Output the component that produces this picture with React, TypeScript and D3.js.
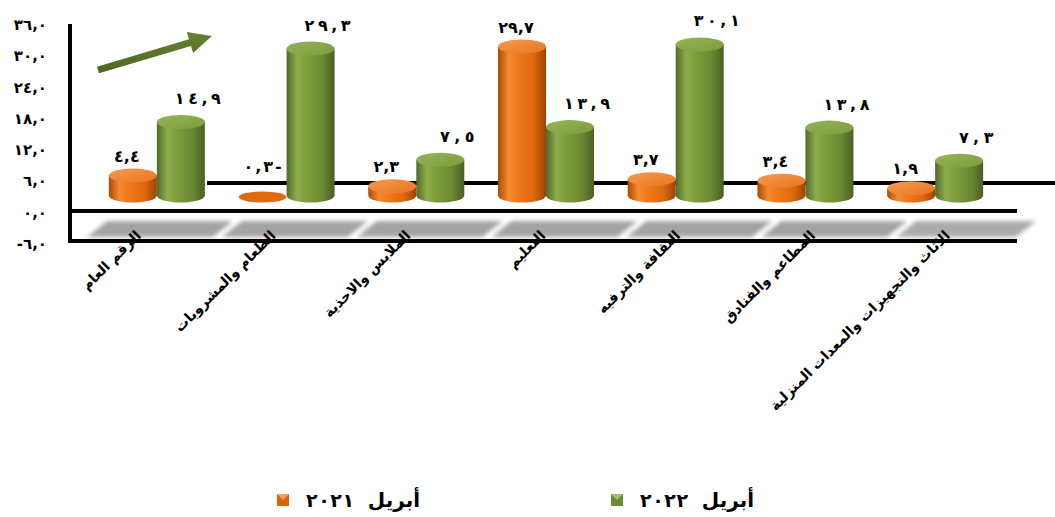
import React from "react";
import * as d3 from "d3";

const categories = [
  "الرقم العام",
  "الطعام والمشروبات",
  "الملابس والاحذية",
  "التعليم",
  "الثقافة والترفيه",
  "المطاعم والفنادق",
  "الاثاث والتجهيزات والمعدات المنزلية",
];
const april2021 = [4.4, -0.3, 2.3, 29.7, 3.7, 3.4, 1.9];
const april2022 = [14.9, 29.3, 7.5, 13.9, 30.1, 13.8, 7.3];
const yTicks = [-6, 0, 6, 12, 18, 24, 30, 36];
const legendYear2021 = "٢٠٢١";
const legendYear2022 = "٢٠٢٢";
const legendMonth = "أبريل";

const W = 1055;
const H = 517;
const FONT = "'DejaVu Sans', sans-serif";

const toAr = (s: string) => s.replace(/[0-9]/g, (d) => "٠١٢٣٤٥٦٧٨٩"[+d]);
const fmtAbs = (v: number) => toAr(Math.abs(v).toFixed(1).replace(".", ","));
const tickFmt = (v: number) => (v < 0 ? "-" : "") + fmtAbs(v);
const valFmt = (v: number) => fmtAbs(v) + (v < 0 ? "-" : "");

export default function App() {
  // axis label scale (front plane)
  const axisY = d3.scaleLinear().domain([-6, 36]).range([244, 25]);
  // bar scale (projected plane)
  const barY = d3.scaleLinear().domain([0, 30]).range([198, 45]);
  const xBar = d3.scaleBand<string>().domain(categories).range([92, 1000]).padding(0);
  const xFront = d3.scaleBand<string>().domain(categories).range([70, 1014]).padding(0);

  const bw = 48;
  const rx = bw / 2;
  const ry = 7;
  const baseY = 195.5;

  const series = [
    { key: "o", values: april2021, offset: -1, dx: -6, spaced: false },
    { key: "g", values: april2022, offset: 0, dx: 17, spaced: true },
  ];

  // arrow geometry
  const tail: [number, number] = [98, 70];
  const tip: [number, number] = [212, 36];
  const ddx = tip[0] - tail[0];
  const ddy = tip[1] - tail[1];
  const len = Math.hypot(ddx, ddy);
  const ux = ddx / len;
  const uy = ddy / len;
  const nx = -uy;
  const ny = ux;
  const hl = 23;
  const hw = 11;
  const bx = tip[0] - ux * hl;
  const by = tip[1] - uy * hl;
  const sw = 3.5;
  const arrowPts = [
    [tail[0] + nx * sw, tail[1] + ny * sw],
    [bx + nx * sw, by + ny * sw],
    [bx + nx * hw, by + ny * hw],
    tip,
    [bx - nx * hw, by - ny * hw],
    [bx - nx * sw, by - ny * sw],
    [tail[0] - nx * sw, tail[1] - ny * sw],
  ]
    .map((p) => p.join(","))
    .join(" ");

  const step = xFront.step();

  return (
    <svg width={W} height={H} style={{ display: "block", position: "absolute", left: 0, top: 0 }}>
      <defs>
        <linearGradient id="oBody" x1="0" x2="1" y1="0" y2="0">
          <stop offset="0%" stopColor="#A94A06" />
          <stop offset="22%" stopColor="#F58A30" />
          <stop offset="40%" stopColor="#F07B1E" />
          <stop offset="75%" stopColor="#DE680D" />
          <stop offset="100%" stopColor="#9C4305" />
        </linearGradient>
        <linearGradient id="oTop" x1="0" x2="1" y1="0" y2="1">
          <stop offset="0%" stopColor="#F59A52" />
          <stop offset="100%" stopColor="#E9761E" />
        </linearGradient>
        <linearGradient id="gBody" x1="0" x2="1" y1="0" y2="0">
          <stop offset="0%" stopColor="#53692A" />
          <stop offset="22%" stopColor="#8DAD4C" />
          <stop offset="40%" stopColor="#7E9E3E" />
          <stop offset="75%" stopColor="#6B8831" />
          <stop offset="100%" stopColor="#4B5F24" />
        </linearGradient>
        <linearGradient id="gTop" x1="0" x2="1" y1="0" y2="1">
          <stop offset="0%" stopColor="#94B556" />
          <stop offset="100%" stopColor="#7C9B3E" />
        </linearGradient>
        <linearGradient id="arrowG" x1="0" x2="0" y1="0" y2="1">
          <stop offset="0%" stopColor="#66822F" />
          <stop offset="100%" stopColor="#4E6524" />
        </linearGradient>
        <filter id="blur" x="-10%" y="-50%" width="120%" height="200%">
          <feGaussianBlur stdDeviation="2.2" />
        </filter>
      </defs>

      {/* back floor line */}
      <line x1={207} x2={W} y1={183} y2={183} stroke="#000" strokeWidth={4} />

      {/* shadows on the floor band */}
      <g filter="url(#blur)">
        {categories.map((c, i) => {
          const s = xFront(c)!;
          const last = i === categories.length - 1;
          const l = s + 27;
          const r = s + step + (last ? 12 : 18);
          const t = 221;
          const b = 237;
          const k = 10;
          return (
            <polygon
              key={"sh" + i}
              points={`${l - k},${b} ${l + k},${t} ${r + k},${t} ${r - k},${b}`}
              fill={last ? "#ababab" : "#a3a3a3"}
            />
          );
        })}
      </g>

      {/* front frame lines */}
      <line x1={68} x2={1017} y1={211} y2={211} stroke="#000" strokeWidth={4} />
      <line x1={68} x2={1017} y1={241} y2={241} stroke="#000" strokeWidth={4} />
      <line x1={70} x2={70} y1={24} y2={243} stroke="#000" strokeWidth={4} />

      {/* y tick labels */}
      {yTicks.map((t) => (
        <text
          key={"yt" + t}
          x={47}
          y={axisY(t)}
          textAnchor="end"
          dominantBaseline="central"
          fontFamily={FONT}
          fontWeight="bold"
          fontSize={15}
          fill="#000"
        >
          {tickFmt(t)}
        </text>
      ))}

      {/* bars */}
      {series.map((sr) =>
        categories.map((c, i) => {
          const v = sr.values[i];
          const center = xBar(c)! + xBar.bandwidth() / 2;
          const x0 = center + sr.offset * bw;
          const cx = x0 + rx;
          const body = sr.key === "o" ? "url(#oBody)" : "url(#gBody)";
          const top = sr.key === "o" ? "url(#oTop)" : "url(#gTop)";
          if (v <= 0) {
            return (
              <g key={sr.key + i}>
                <ellipse cx={cx} cy={197} rx={rx} ry={5.5} fill="#DF6A10" />
              </g>
            );
          }
          const ty = barY(v);
          return (
            <g key={sr.key + i}>
              <path
                d={`M${x0},${ty} L${x0},${baseY} A${rx},${ry} 0 0 0 ${x0 + bw},${baseY} L${x0 + bw},${ty} Z`}
                fill={body}
              />
              <ellipse cx={cx} cy={ty} rx={rx} ry={ry} fill={top} />
            </g>
          );
        })
      )}

      {/* value labels */}
      {series.map((sr) =>
        categories.map((c, i) => {
          const v = sr.values[i];
          const center = xBar(c)! + xBar.bandwidth() / 2;
          const cx = center + sr.offset * bw + rx;
          const topEdge = v <= 0 ? 191.5 : barY(v) - ry;
          const y = v <= 0 ? 172 : topEdge - (sr.key === "o" ? 7 : 11);
          const label = valFmt(v);
          const spaced = v <= 0 || sr.spaced;
          const tl = v <= 0 ? 38 : label.length * 11.5;
          const extra = spaced ? { textLength: tl, lengthAdjust: "spacing" } : {};
          return (
            <text
              key={"vl" + sr.key + i}
              x={cx + (v <= 0 ? 0 : sr.dx)}
              y={y}
              textAnchor="middle"
              fontFamily={FONT}
              fontWeight="bold"
              fontSize={16}
              fill="#000"
              {...extra}
            >
              {label}
            </text>
          );
        })
      )}

      {/* category labels */}
      {categories.map((c, i) => {
        const ax = xFront(c)! + step / 2 - 3;
        const ay = 229;
        return (
          <text
            key={"cl" + i}
            transform={`translate(${ax},${ay}) rotate(-45)`}
            textAnchor="end"
            dominantBaseline="hanging"
            fontFamily={FONT}
            fontWeight="bold"
            fontSize={14}
            fill="#000"
          >
            {c}
          </text>
        );
      })}

      {/* arrow */}
      <polygon points={arrowPts} fill="url(#arrowG)" />

      {/* legend */}
      {[
        { x: 277, year: legendYear2021, c1: "#D9650B", c2: "#F5A160" },
        { x: 611, year: legendYear2022, c1: "#6E8B35", c2: "#A4C26A" },
      ].map((lg, i) => (
        <g key={"lg" + i}>
          <rect x={lg.x} y={494} width={12} height={12} fill={lg.c1} />
          <polygon
            points={`${lg.x},${494} ${lg.x + 12},${494} ${lg.x + 6},${500}`}
            fill={lg.c2}
          />
          <text
            x={lg.x + 29}
            y={507}
            fontFamily={FONT}
            fontWeight="bold"
            fontSize={19}
            textLength={48}
            lengthAdjust="spacing"
            fill="#000"
          >
            {lg.year}
          </text>
          <text
            x={lg.x + 143}
            y={507}
            textAnchor="end"
            fontFamily={FONT}
            fontWeight="bold"
            fontSize={20}
            fill="#000"
          >
            {legendMonth}
          </text>
        </g>
      ))}
    </svg>
  );
}
